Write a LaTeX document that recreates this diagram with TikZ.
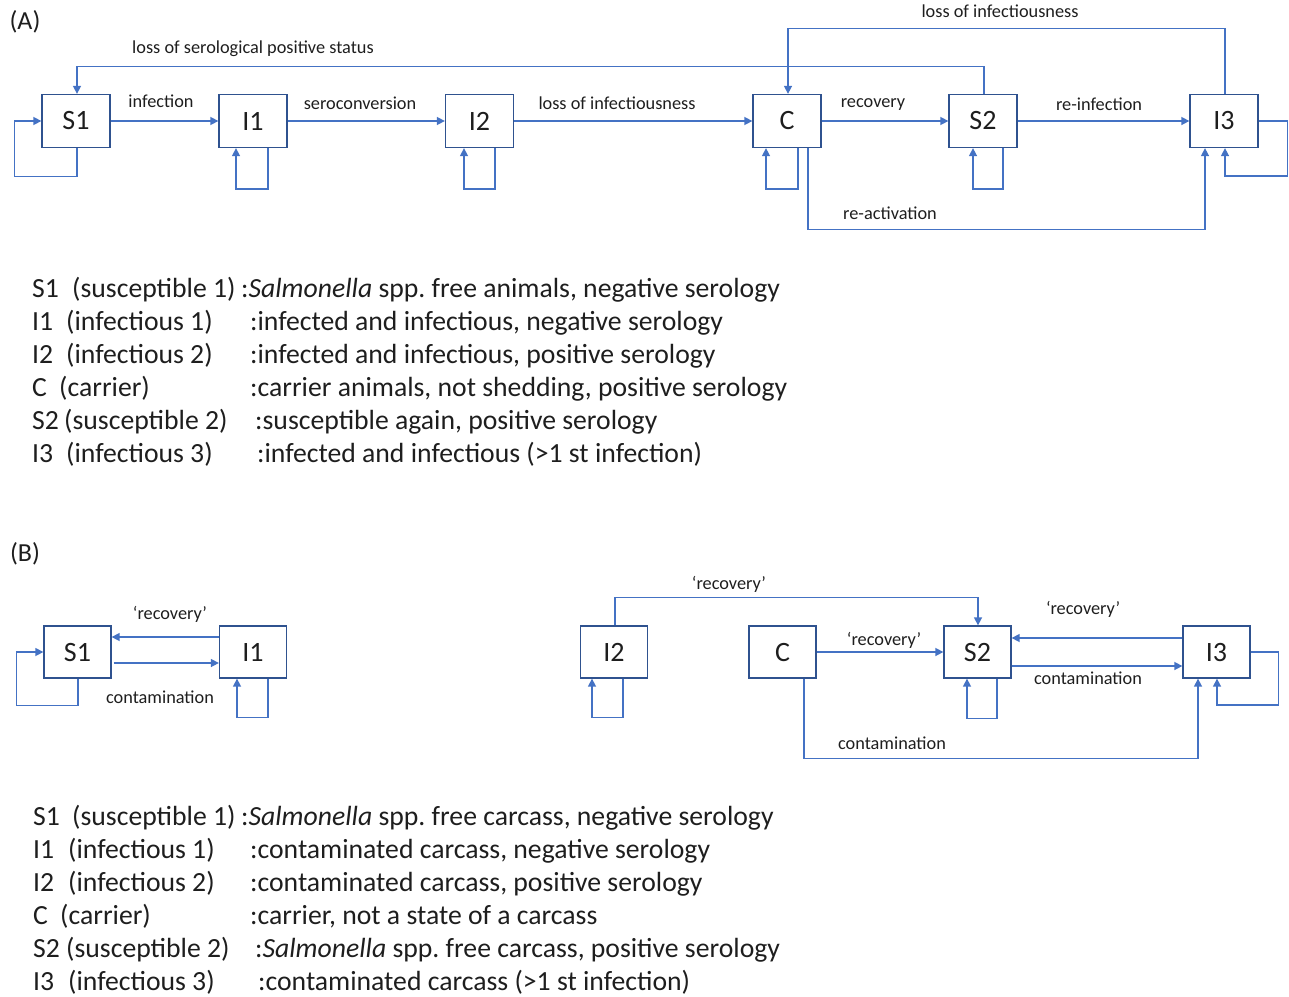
\documentclass[tikz,border=0pt]{standalone}
\usepackage{fontspec}
\setmainfont{Carlito}
\usetikzlibrary{arrows.meta}
\definecolor{lnblue}{HTML}{4472C4}
\definecolor{bxblue}{HTML}{2F528F}
\definecolor{txt}{HTML}{1E1E1E}
\frenchspacing
\begin{document}
\begin{tikzpicture}[x=1pt,y=-1pt,
  tbox/.style={draw=bxblue, line width=1.3pt, minimum width=68pt, minimum height=53pt, inner sep=0pt, font=\fontsize{28}{30}\selectfont, text=txt},
  bbox/.style={tbox, minimum width=67pt, minimum height=52pt},
  arr/.style={draw=lnblue, line width=1.5pt, -{Triangle[length=8pt,width=8pt]}},
  lbl/.style={anchor=base, inner sep=0pt, font=\fontsize{18.3}{20}\selectfont, text=txt},
  leg/.style={anchor=base west, inner sep=0pt, font=\fontsize{27.7}{30}\selectfont, text=txt},
  tag/.style={anchor=center, inner sep=0pt, font=\fontsize{26}{28}\selectfont, text=txt},
  ]
\useasboundingbox (0,0) rectangle (1289,996);

% ---------------- (A) ----------------
\node[tag] (tagA) at (25,22) {(A)};

\node[tbox] (s1) at (76,121) {S1};
\node[tbox] (i1) at (253,121) {I1};
\node[tbox] (i2) at (479.5,121) {I2};
\node[tbox] (c)  at (787,121) {C};
\node[tbox] (s2) at (983,121) {S2};
\node[tbox] (i3) at (1224,121) {I3};

\draw[arr] (s1.east) -- (i1.west);
\draw[arr] (i1.east) -- (i2.west);
\draw[arr] (i2.east) -- (c.west);
\draw[arr] (c.east) -- (s2.west);
\draw[arr] (s2.east) -- (i3.west);

\draw[arr] ([xshift=1pt]s1.south) -- ++(0,28.5) -| ([xshift=-27pt]s1.west) -- (s1.west);
\draw[arr] ([xshift=15pt]i1.south) -- ++(0,41) -| ([xshift=-17pt]i1.south);
\draw[arr] ([xshift=15.5pt]i2.south) -- ++(0,41) -| ([xshift=-15.5pt]i2.south);
\draw[arr] ([xshift=11pt]c.south) -- ++(0,41) -| ([xshift=-21pt]c.south);
\draw[arr] ([xshift=20pt]s2.south) -- ++(0,41) -| ([xshift=-10pt]s2.south);
\draw[arr] (i3.east) -| ([xshift=29pt,yshift=-55pt]i3.east) -| ([xshift=1pt]i3.south);
\draw[arr] ([xshift=21pt]c.south) -- ++(0,81.5) -| ([xshift=-19pt]i3.south);
\draw[arr] ([xshift=1pt]i3.north) -- ++(0,-65.5) -| ([xshift=1pt]c.north);
\draw[arr] ([xshift=1pt]s2.north) -- ++(0,-27.5) -| ([xshift=1pt]s1.north);

\node[lbl] (lA1) at (1000,17) {loss of infectiousness};
\node[lbl] (lA2) at (253,53) {loss of serological positive status};
\node[lbl] (lA3) at (161,107) {infection};
\node[lbl] (lA4) at (360,109) {seroconversion};
\node[lbl] (lA5) at (617,109) {loss of infectiousness};
\node[lbl] (lA6) at (873,107) {recovery};
\node[lbl] (lA7) at (1099,110) {re-infection};
\node[lbl] (lA8) at (890,219) {re-activation};

% legend A
\node[leg] (a1c) at (32,297) {S1};
\node[leg] (a1p) at (72,297) {(susceptible 1)};
\node[leg] (a1d) at (241,297) {:\textit{Salmonella} spp. free animals, negative serology};
\node[leg] (a2c) at (32,330) {I1};
\node[leg] (a2p) at (66,330) {(infectious 1)};
\node[leg] (a2d) at (250,330) {:infected and infectious, negative serology};
\node[leg] (a3c) at (32,363) {I2};
\node[leg] (a3p) at (66,363) {(infectious 2)};
\node[leg] (a3d) at (250,363) {:infected and infectious, positive serology};
\node[leg] (a4c) at (32,396) {C};
\node[leg] (a4p) at (59,396) {(carrier)};
\node[leg] (a4d) at (250,396) {:carrier animals, not shedding, positive serology};
\node[leg] (a5c) at (32,429) {S2};
\node[leg] (a5p) at (64,429) {(susceptible 2)};
\node[leg] (a5d) at (255,429) {:susceptible again, positive serology};
\node[leg] (a6c) at (32,462) {I3};
\node[leg] (a6p) at (66,462) {(infectious 3)};
\node[leg] (a6d) at (257,462) {:infected and infectious (>1 st infection)};

% ---------------- (B) ----------------
\node[tag] (tagB) at (25,554) {(B)};

\node[bbox] (s1b) at (77.5,652) {S1};
\node[bbox] (i1b) at (253,652) {I1};
\node[bbox] (i2b) at (614,652) {I2};
\node[bbox] (cb)  at (782.5,652) {C};
\node[bbox] (s2b) at (977.5,652) {S2};
\node[bbox] (i3b) at (1216.5,652) {I3};

\draw[arr] ([yshift=15pt]i1b.west) -- ([yshift=15pt]s1b.east);
\draw[arr] ([xshift=2pt,yshift=-11pt]s1b.east) -- ([yshift=-11pt]i1b.west);
\draw[arr] ([xshift=0.5pt]s1b.south) -- ++(0,27) -| ([xshift=-27pt]s1b.west) -- (s1b.west);
\draw[arr] ([xshift=15pt]i1b.south) -- ++(0,39) -| ([xshift=-16pt]i1b.south);

\draw[arr] ([xshift=1pt]i2b.north) -- ++(0,-28) -| ([xshift=0.5pt]s2b.north);
\draw[arr] ([xshift=9pt]i2b.south) -- ++(0,39) -| ([xshift=-22pt]i2b.south);
\draw[arr] (cb.east) -- (s2b.west);
\draw[arr] ([xshift=21.5pt]cb.south) -- ++(0,80) -| ([xshift=-18.5pt]i3b.south);
\draw[arr] ([yshift=14pt]i3b.west) -- ([yshift=14pt]s2b.east);
\draw[arr] ([yshift=-14pt]s2b.east) -- ([yshift=-14pt]i3b.west);
\draw[arr] ([xshift=19.5pt]s2b.south) -- ++(0,40) -| ([xshift=-10.5pt]s2b.south);
\draw[arr] (i3b.east) -| ([xshift=28pt,yshift=-53pt]i3b.east) -| ([xshift=0.5pt]i3b.south);

\node[lbl] (lB1) at (170,619) {‘recovery’};
\node[lbl] (lB2) at (160,703) {contamination};
\node[lbl] (lB3) at (729,589) {‘recovery’};
\node[lbl] (lB4) at (884,645) {‘recovery’};
\node[lbl] (lB5) at (1083,614) {‘recovery’};
\node[lbl] (lB6) at (1088,684) {contamination};
\node[lbl] (lB7) at (892,749) {contamination};

% legend B
\node[leg] (b1c) at (33,825) {S1};
\node[leg] (b1p) at (72,825) {(susceptible 1)};
\node[leg] (b1d) at (241,825) {:\textit{Salmonella} spp. free carcass, negative serology};
\node[leg] (b2c) at (33,858) {I1};
\node[leg] (b2p) at (68,858) {(infectious 1)};
\node[leg] (b2d) at (250,858) {:contaminated carcass, negative serology};
\node[leg] (b3c) at (33,891) {I2};
\node[leg] (b3p) at (68,891) {(infectious 2)};
\node[leg] (b3d) at (250,891) {:contaminated carcass, positive serology};
\node[leg] (b4c) at (33,924) {C};
\node[leg] (b4p) at (60,924) {(carrier)};
\node[leg] (b4d) at (250,924) {:carrier, not a state of a carcass};
\node[leg] (b5c) at (33,957) {S2};
\node[leg] (b5p) at (66,957) {(susceptible 2)};
\node[leg] (b5d) at (255,957) {:\textit{Salmonella} spp. free carcass, positive serology};
\node[leg] (b6c) at (33,990) {I3};
\node[leg] (b6p) at (68,990) {(infectious 3)};
\node[leg] (b6d) at (258,990) {:contaminated carcass (>1 st infection)};
\end{tikzpicture}
\end{document}
